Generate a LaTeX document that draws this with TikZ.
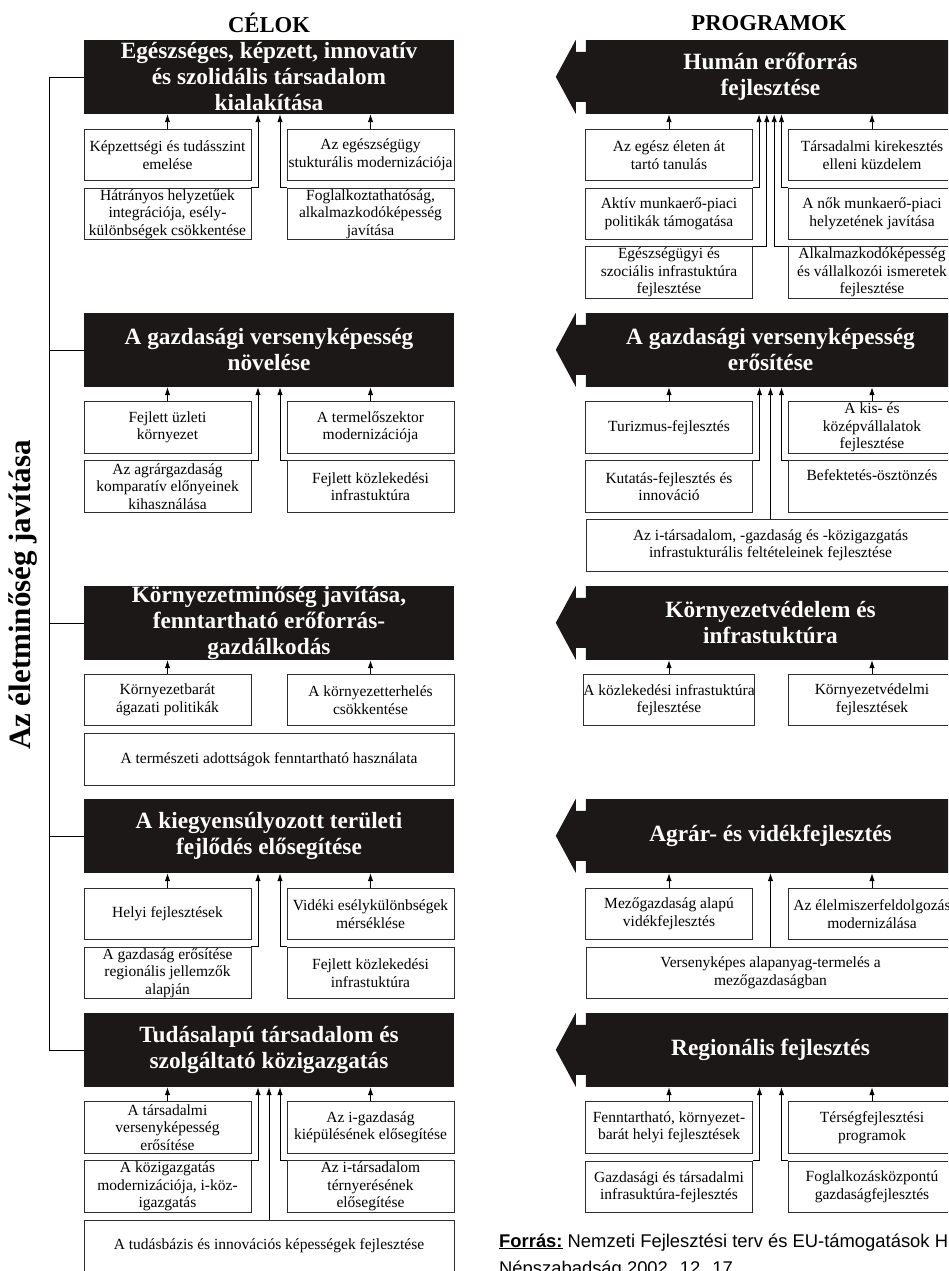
\documentclass[tikz,border=0pt]{standalone}
\usepackage{fontspec}
\setmainfont{Liberation Serif}
\newfontfamily\footfont{Liberation Sans}
\usetikzlibrary{arrows.meta}

\definecolor{banner}{RGB}{28,24,24}
\definecolor{frame}{RGB}{45,45,45}

\tikzset{
  goal/.style={fill=banner, text=white, minimum width=370pt, minimum height=74pt,
               inner sep=0pt, align=center, font=\fontsize{23.3}{26}\selectfont\bfseries},
  prog/.style={goal, minimum width=369pt},
  box/.style={draw=frame, line width=0.9pt, fill=white, minimum width=167pt,
              minimum height=51.5pt, inner sep=0pt, align=center,
              font=\fontsize{15.5}{17.5}\selectfont},
  wide/.style={box, minimum width=370pt},
  arr/.style={-{Latex[length=8pt,width=5.5pt]}, line width=0.9pt, draw=black},
  spine/.style={line width=0.9pt, draw=black},
  title/.style={font=\fontsize{22.7}{24}\selectfont\bfseries},
  forrasfont/.style={anchor=base west, inner sep=0pt, font=\footfont\fontsize{18.4}{21}\selectfont}
}

% arrowhead on the left end of a program banner
\newcommand\progtip[1]{%
  \fill[banner] (#1.north west) -- ++(0,12) -- ++(-10,0) -- ++(0,-12) -- ++(-20,37)
    -- ++(20,37) -- ++(0,-12) -- ++(10,0) -- ++(0,12) -- cycle;}

\begin{document}
\begin{tikzpicture}[x=1pt,y=-1pt]
\useasboundingbox (0,0) rectangle (948,1271);
\clip (0,0) rectangle (948,1271);

\node[title] (celok) at (269,23) {CÉLOK};
\node[title] (programok) at (769,23) {PROGRAMOK};

% Célok
\node[goal] (G1) at (269,77) {Egészséges, képzett, innovatív\\ és szolidális társadalom\\ kialakítása};
\node[box] (g1a) at (167.5,155) {Képzettségi és tudásszint\\ emelése};
\node[box] (g1b) at (370.5,155) {Az egészségügy\\ stukturális modernizációja};
\node[box] (g1c) at (167.5,214) {Hátrányos helyzetűek\\ integrációja, esély-\\ különbségek csökkentése};
\node[box] (g1d) at (370.5,214) {Foglalkoztathatóság,\\ alkalmazkodóképesség\\ javítása};

\node[goal] (G2) at (269,350) {A gazdasági versenyképesség\\ növelése};
\node[box] (g2a) at (167.5,427.5) {Fejlett üzleti\\ környezet};
\node[box] (g2b) at (370.5,427.5) {A termelőszektor\\ modernizációja};
\node[box] (g2c) at (167.5,486.5) {Az agrárgazdaság\\ komparatív előnyeinek\\ kihasználása};
\node[box] (g2d) at (370.5,486.5) {Fejlett közlekedési\\ infrastuktúra};

\node[goal] (G3) at (269,623) {Környezetminőség javítása,\\ fenntartható erőforrás-\\ gazdálkodás};
\node[box] (g3a) at (167.5,700) {Környezetbarát\\ ágazati politikák};
\node[box] (g3b) at (370.5,700) {A környezetterhelés\\ csökkentése};
\node[wide] (g3c) at (269,759.5) {A természeti adottságok fenntartható használata};

\node[goal] (G4) at (269,836) {A kiegyensúlyozott területi\\ fejlődés elősegítése};
\node[box] (g4a) at (167.5,914) {Helyi fejlesztések};
\node[box] (g4b) at (370.5,914) {Vidéki esélykülönbségek\\ mérséklése};
\node[box] (g4c) at (167.5,973) {A gazdaság erősítése\\ regionális jellemzők\\ alapján};
\node[box] (g4d) at (370.5,973) {Fejlett közlekedési\\ infrastuktúra};

\node[goal] (G5) at (269,1050) {Tudásalapú társadalom és\\ szolgáltató közigazgatás};
\node[box] (g5a) at (167.5,1127.5) {A társadalmi\\ versenyképesség\\ erősítése};
\node[box] (g5b) at (370.5,1127.5) {Az i-gazdaság\\ kiépülésének elősegítése};
\node[box] (g5c) at (167.5,1186.5) {A közigazgatás\\ modernizációja, i-köz-\\ igazgatás};
\node[box] (g5d) at (370.5,1186.5) {Az i-társadalom\\ térnyerésének\\ elősegítése};
\node[wide] (g5e) at (269,1246) {A tudásbázis és innovációs képességek fejlesztése};

\node[rotate=90, font=\fontsize{31}{31}\selectfont\bfseries] (elet) at (23,595) {Az életminőség javítása};
\draw[spine] (G1.west) -- ++(-34.5,0) |- (G5.west);
\foreach \g in {G2,G3,G4}
  \draw[spine] (\g.west) -- ++(-34.5,0);

% Programok
\node[prog] (P1) at (770.5,77) {Humán erőforrás\\ fejlesztése};
\node[box] (p1a) at (669,155) {Az egész életen át\\ tartó tanulás};
\node[box] (p1b) at (872,155) {Társadalmi kirekesztés\\ elleni küzdelem};
\node[box] (p1c) at (669,214) {Aktív munkaerő-piaci\\ politikák támogatása};
\node[box] (p1d) at (872,214) {A nők munkaerő-piaci\\ helyzetének javítása};
\node[box] (p1e) at (669,272.5) {Egészségügyi és\\ szociális infrastuktúra\\ fejlesztése};
\node[box] (p1f) at (872,272.5) {Alkalmazkodóképesség\\ és vállalkozói ismeretek\\ fejlesztése};

\node[prog] (P2) at (770.5,350) {A gazdasági versenyképesség\\ erősítése};
\node[box] (p2a) at (669,427.5) {Turizmus-fejlesztés};
\node[box] (p2b) at (872,427.5) {A kis- és\\ középvállalatok\\ fejlesztése};
\node[box] (p2c) at (669,486.5) {Kutatás-fejlesztés és\\ innováció};
\node[box] (p2d) at (872,486.5) {Befektetés-ösztönzés\\ \strut};
\node[wide, minimum width=369pt] (p2e) at (770.5,545.5) {Az i-társadalom, -gazdaság és -közigazgatás\\ infrastukturális feltételeinek fejlesztése};

\node[prog] (P3) at (770.5,623) {Környezetvédelem és\\ infrastuktúra};
\node[box] (p3a) at (669,700) {A közlekedési infrastuktúra\\ fejlesztése};
\node[box] (p3b) at (872,700) {Környezetvédelmi\\ fejlesztések};

\node[prog] (P4) at (770.5,836) {Agrár- és vidékfejlesztés};
\node[box] (p4a) at (669,914) {Mezőgazdaság alapú\\ vidékfejlesztés};
\node[box] (p4b) at (872,914) {Az élelmiszerfeldolgozás\\ modernizálása};
\node[wide, minimum width=369pt] (p4c) at (770.5,973) {Versenyképes alapanyag-termelés a\\ mezőgazdaságban};

\node[prog] (P5) at (770.5,1050) {Regionális fejlesztés};
\node[box] (p5a) at (669,1127.5) {Fenntartható, környezet-\\ barát helyi fejlesztések};
\node[box] (p5b) at (872,1127.5) {Térségfejlesztési\\ programok};
\node[box] (p5c) at (669,1187) {Gazdasági és társadalmi\\ infrasuktúra-fejlesztés};
\node[box] (p5d) at (872,1187) {Foglalkozásközpontú\\ gazdaságfejlesztés};

\foreach \p in {P1,P2,P3,P4,P5}
  {\progtip{\p}}

% nyilak
\foreach \b/\g in {g1a/G1,g1b/G1,g2a/G2,g2b/G2,g3a/G3,g3b/G3,g4a/G4,g4b/G4,g5a/G5,g5b/G5,
                   p1a/P1,p1b/P1,p2a/P2,p2b/P2,p3a/P3,p3b/P3,p4a/P4,p4b/P4,p5a/P5,p5b/P5}
  \draw[arr] (\b.north) -- (\b.north |- \g.south);
\foreach \b/\g in {g1c/G1,g2c/G2,g4c/G4,g5c/G5,p2c/P2,p5c/P5}
  \draw[arr] (\b.north east) -| ([xshift=-11pt]\g.south);
\foreach \b/\g in {g1d/G1,g2d/G2,g4d/G4,g5d/G5,p2d/P2,p5d/P5}
  \draw[arr] (\b.north west) -| ([xshift=11pt]\g.south);
\draw[arr] (g5e.north) -- (G5.south);
\draw[arr] (p2e.north -| P2.south) -- (P2.south);
\draw[arr] (p4c.north -| P4.south) -- (P4.south);
\draw[arr] (p1c.north east) -| ([xshift=-11.5pt]P1.south);
\draw[arr] (p1e.north east) -| ([xshift=-3.7pt]P1.south);
\draw[arr] (p1f.north west) -| ([xshift=3.7pt]P1.south);
\draw[arr] (p1d.north west) -| ([xshift=11pt]P1.south);

\node[forrasfont] (forras) at (499,1247)
  {\underline{\textbf{Forrás:}} Nemzeti Fejlesztési terv és EU-támogatások H};
\node[forrasfont] (forras2) at (499,1274)
  {Népszabadság 2002. 12. 17.};
\end{tikzpicture}
\end{document}
